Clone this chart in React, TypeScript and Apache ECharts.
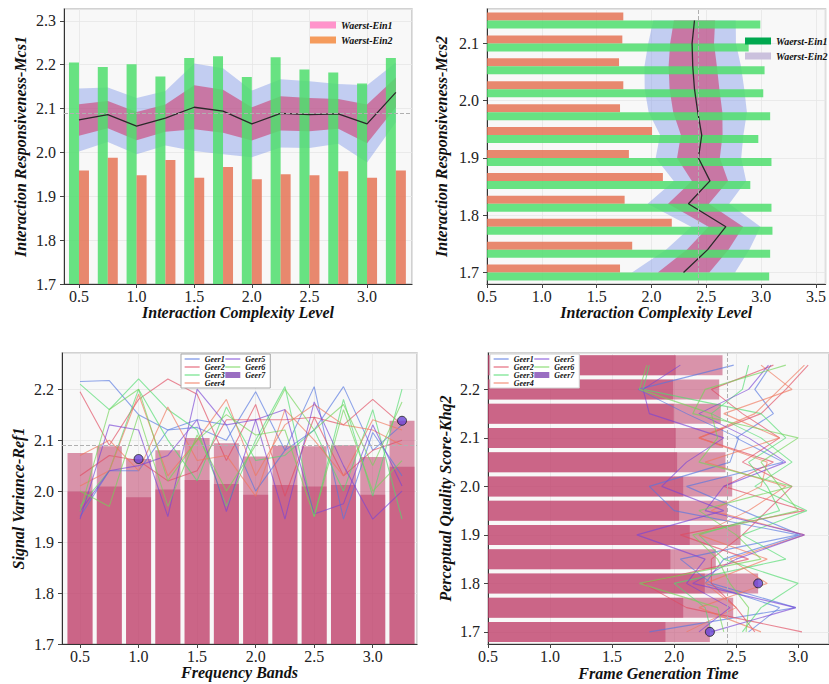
import React, { useEffect, useRef } from 'react';
import * as echarts from 'echarts';

const SERIF = '"Liberation Serif", "Times New Roman", "DejaVu Serif", serif';

// ---------- Panel 1 (top-left) ----------
const p1X = [0.5, 0.75, 1.0, 1.25, 1.5, 1.75, 2.0, 2.25, 2.5, 2.75, 3.0, 3.25];
const p1Green = [2.205, 2.195, 2.201, 2.173, 2.215, 2.219, 2.172, 2.217, 2.189, 2.182, 2.157, 2.215];
const p1Orange = [1.959, 1.988, 1.948, 1.983, 1.942, 1.967, 1.939, 1.95, 1.948, 1.957, 1.942, 1.959];
const p1Mean = [2.074, 2.086, 2.06, 2.078, 2.103, 2.094, 2.065, 2.089, 2.086, 2.088, 2.065, 2.137];
const p1Sd = [0.036, 0.031, 0.032, 0.031, 0.05, 0.049, 0.038, 0.039, 0.038, 0.034, 0.044, 0.034];

// ---------- Panel 2 (top-right) ----------
const p2Y = [1.7, 1.74, 1.78, 1.82, 1.86, 1.9, 1.94, 1.98, 2.02, 2.06, 2.1, 2.14];
const p2Green = [3.073, 3.082, 3.103, 3.094, 2.901, 3.094, 2.974, 3.082, 3.019, 3.031, 2.886, 2.992];
const p2Orange = [1.713, 1.824, 2.185, 1.755, 2.104, 1.794, 2.005, 1.713, 1.743, 1.704, 1.734, 1.743];
const p2Mean = [2.292, 2.512, 2.678, 2.337, 2.533, 2.428, 2.458, 2.422, 2.392, 2.376, 2.37, 2.392];
const p2Sd = [0.235, 0.19, 0.158, 0.186, 0.165, 0.195, 0.19, 0.224, 0.227, 0.22, 0.2, 0.188];

// ---------- Panel 3 (bottom-left) ----------
const p3X = [0.5, 0.75, 1.0, 1.25, 1.5, 1.75, 2.0, 2.25, 2.5, 2.75, 3.0, 3.25];
const p3Top = [2.075, 2.088, 2.063, 2.08, 2.104, 2.094, 2.068, 2.089, 2.088, 2.09, 2.067, 2.138];
const p3Low = [1.999, 2.009, 1.988, 2.003, 2.022, 2.014, 1.993, 2.012, 2.009, 2.012, 1.993, 2.048];
const g1a = [2.215, 2.217, 2.15, 2.12, 2.125, 2.1, 2.195, 2.08, 2.205, 1.945, 2.115, 2.03];
const g1b = [1.95, 2.04, 2.04, 2.12, 2.14, 2.13, 2.0, 2.08, 2.12, 2.205, 2.08, 2.13];
const g2a = [2.195, 2.09, 2.18, 2.22, 2.19, 2.06, 2.17, 1.99, 2.145, 2.13, 2.18, 2.13];
const g2b = [2.03, 2.07, 2.06, 2.02, 2.04, 2.14, 2.14, 2.14, 2.145, 2.03, 2.08, 2.1];
const g3a = [2.21, 2.16, 2.22, 2.16, 2.12, 1.97, 2.1, 2.205, 1.95, 2.18, 1.99, 2.2];
const g3b = [1.97, 2.04, 2.2, 2.1, 2.02, 2.165, 2.06, 2.07, 2.12, 2.0, 2.16, 1.945];
const g4a = [2.01, 2.04, 2.19, 2.03, 2.1, 2.18, 2.03, 2.13, 2.17, 2.13, 2.12, 2.09];
const g4b = [2.07, 2.1, 2.04, 2.165, 2.06, 2.07, 1.99, 2.16, 2.1, 2.03, 2.14, 2.12];
const g5a = [1.945, 2.13, 2.12, 1.95, 2.2, 2.13, 2.14, 1.945, 2.175, 2.05, 1.945, 2.0];
const g5b = [1.96, 2.04, 2.05, 2.07, 2.14, 1.96, 2.14, 2.16, 1.955, 1.975, 2.13, 2.01];
const g6a = [2.0, 1.97, 2.15, 1.97, 2.11, 2.0, 2.09, 2.2, 2.12, 2.17, 2.05, 2.175];
const g6b = [1.96, 2.16, 2.2, 2.02, 2.1, 2.15, 2.11, 2.12, 1.95, 2.16, 2.0, 2.06];

// ---------- Panel 4 (bottom-right) ----------
const p4Y = [1.7, 1.75, 1.8, 1.85, 1.9, 1.95, 2.0, 2.05, 2.1, 2.15, 2.2, 2.25];
const p4Top = [2.288, 2.476, 2.677, 2.336, 2.535, 2.427, 2.468, 2.414, 2.395, 2.376, 2.363, 2.39];
const p4Low = [1.93, 2.073, 2.247, 1.97, 2.126, 2.04, 2.073, 2.024, 2.013, 1.997, 1.992, 2.013];
const h1a = [1.8, 2.98, 2.3, 2.05, 3.0, 2.0, 1.8, 2.45, 2.52, 2.1, 1.71, 2.48];
const h1b = [2.6, 2.85, 2.25, 2.4, 3.02, 2.55, 2.1, 2.88, 2.5, 2.8, 2.65, 2.78];
const h2a = [2.65, 2.5, 2.3, 2.3, 2.55, 2.75, 2.95, 2.55, 2.85, 2.55, 2.3, 2.8];
const h2b = [3.03, 2.1, 1.75, 2.6, 2.05, 3.05, 2.4, 2.8, 2.2, 2.7, 2.9, 3.08];
const h3a = [2.55, 2.7, 3.0, 2.4, 2.2, 2.85, 2.75, 2.6, 2.9, 2.7, 1.75, 1.8];
const h3b = [2.3, 2.25, 2.0, 2.9, 2.55, 3.07, 2.65, 2.95, 2.7, 2.3, 2.55, 2.6];
const h4a = [2.1, 2.5, 2.25, 2.75, 2.2, 2.6, 2.9, 2.25, 2.85, 2.4, 2.95, 2.7];
const h4b = [2.7, 2.2, 2.75, 2.45, 3.05, 2.3, 2.7, 2.75, 2.2, 2.65, 2.85, 3.05];
const h5a = [2.2, 2.45, 2.1, 2.25, 1.7, 2.4, 1.9, 2.1, 2.4, 1.8, 1.75, 2.05];
const h5b = [2.3, 2.98, 2.15, 2.5, 3.05, 2.25, 2.4, 2.9, 2.6, 2.2, 2.6, 2.76];
const h6a = [2.4, 2.35, 1.72, 2.7, 2.5, 2.2, 2.95, 2.2, 2.35, 2.3, 1.72, 1.78];
const h6b = [2.58, 2.6, 2.45, 2.35, 2.15, 3.0, 2.85, 2.7, 3.0, 2.15, 2.25, 2.9];

const geerNames = ['Geer1', 'Geer2', 'Geer3', 'Geer4', 'Geer5', 'Geer6'];
const geerColors = ['#5577e0', '#e04a60', '#50dc6e', '#f0765a', '#7a45d6', '#72d458'];
const p3Lines = [[g1a, g1b], [g2a, g2b], [g3a, g3b], [g4a, g4b], [g5a, g5b], [g6a, g6b]];
const p4Lines = [[h1a, h1b], [h2a, h2b], [h3a, h3b], [h4a, h4b], [h5a, h5b], [h6a, h6b]];

const mean = (a: number[]) => a.reduce((s, v) => s + v, 0) / a.length;

const titleStyle = { fontFamily: SERIF, fontSize: 16, fontWeight: 'bold', fontStyle: 'italic', color: '#111' };
const labelStyle = { fontFamily: SERIF, fontSize: 16, color: '#222' };

function valueAxis(gridIndex: number, min: number, max: number, name: string, nameGap: number, showMin: boolean, margin: number) {
  return {
    type: 'value', gridIndex, min, max, splitNumber: 6,
    name, nameLocation: 'middle', nameGap, nameTextStyle: titleStyle,
    axisLine: { show: true, onZero: false, lineStyle: { color: '#333', width: 1 } },
    axisTick: { show: true, length: 4, lineStyle: { color: '#444' } },
    axisLabel: { ...labelStyle, margin, showMinLabel: showMin, showMaxLabel: false, formatter: (v: number) => v.toFixed(1) },
    splitLine: { show: true, lineStyle: { color: '#e6e6e6', width: 0.8 } },
  };
}

function band(xi: number, yi: number, pos: number[], center: number[], sd: number[], k: number, color: string, horizontal: boolean) {
  return {
    type: 'custom', xAxisIndex: xi, yAxisIndex: yi, z: 1, silent: true, clip: true,
    data: [horizontal ? [center[0], pos[0]] : [pos[0], center[0]]],
    renderItem: (_params: any, api: any) => {
      const pt = (p: number, v: number) => (horizontal ? api.coord([v, p]) : api.coord([p, v]));
      const upper = pos.map((p, i) => pt(p, center[i] + k * sd[i]));
      const lower = pos.map((p, i) => pt(p, center[i] - k * sd[i])).reverse();
      return { type: 'polygon', shape: { points: upper.concat(lower) }, style: { fill: color } };
    },
  };
}

const legendText = { fontFamily: SERIF, fontWeight: 'bold', fontStyle: 'italic', color: '#111' };

function geerLegend(left: number, top: number, border: string) {
  return {
    left, top, orient: 'vertical', height: 34, itemWidth: 15, itemHeight: 6, itemGap: 0,
    padding: [1, 5, 1, 3], backgroundColor: '#ffffff', borderColor: border, borderWidth: 1,
    textStyle: { ...legendText, fontSize: 8, width: 36 },
    data: [
      ...geerNames.map((n, i) => ({ name: n, icon: 'line', itemStyle: { color: geerColors[i], borderColor: geerColors[i], borderWidth: 1.3, opacity: 0.75 } })),
      { name: 'Geer7', icon: 'rect', itemStyle: { color: '#9a6ec2', borderWidth: 0 } },
    ],
  };
}

function buildOption() {
  const series: any[] = [];
  const blueBand = 'rgba(120,145,232,0.42)';
  const pinkBand = 'rgba(205,50,100,0.55)';
  // Panel 1
  series.push(band(0, 0, p1X, p1Mean, p1Sd, 2, blueBand, false));
  series.push(band(0, 0, p1X, p1Mean, p1Sd, 1, pinkBand, false));
  series.push({ name: 'Waerst-Ein1', type: 'bar', xAxisIndex: 0, yAxisIndex: 0, barWidth: 10, barGap: '0%', z: 2,
    itemStyle: { color: 'rgba(79,222,109,0.85)' }, data: p1X.map((x, i) => [x, p1Green[i]]) });
  series.push({ name: 'Waerst-Ein2', type: 'bar', xAxisIndex: 0, yAxisIndex: 0, barWidth: 10, barGap: '0%', z: 2,
    itemStyle: { color: 'rgba(229,116,86,0.85)' }, data: p1X.map((x, i) => [x, p1Orange[i]]) });
  series.push({ name: 'mean1', type: 'line', xAxisIndex: 0, yAxisIndex: 0, symbol: 'none', z: 4,
    lineStyle: { color: '#2a2a2a', width: 1.3 }, data: p1X.map((x, i) => [x, p1Mean[i]]),
    markLine: { silent: true, symbol: 'none', label: { show: false }, lineStyle: { color: '#b0b0b0', type: 'dashed', width: 1 }, data: [{ yAxis: mean(p1Mean) }] } });

  // Panel 2
  series.push(band(1, 1, p2Y, p2Mean, p2Sd, 2, blueBand, true));
  series.push(band(1, 1, p2Y, p2Mean, p2Sd, 1, pinkBand, true));
  series.push({ name: 'Waerst-Ein2', type: 'bar', xAxisIndex: 1, yAxisIndex: 2, barWidth: 8, barGap: '0%', z: 2,
    itemStyle: { color: 'rgba(229,116,86,0.85)' }, data: p2Orange });
  series.push({ name: 'Waerst-Ein1', type: 'bar', xAxisIndex: 1, yAxisIndex: 2, barWidth: 8, barGap: '0%', z: 2,
    itemStyle: { color: 'rgba(79,222,109,0.85)' }, data: p2Green });
  series.push({ name: 'mean2', type: 'line', xAxisIndex: 1, yAxisIndex: 1, symbol: 'none', z: 4,
    lineStyle: { color: '#2a2a2a', width: 1.3 }, data: p2Y.map((y, i) => [p2Mean[i], y]),
    markLine: { silent: true, symbol: 'none', label: { show: false }, lineStyle: { color: '#b0b0b0', type: 'dashed', width: 1 }, data: [{ xAxis: mean(p2Mean) }] } });

  // Panel 3
  series.push({ name: 'Geer7-base', type: 'bar', xAxisIndex: 2, yAxisIndex: 3, barWidth: 25, barGap: '-100%', z: 2,
    itemStyle: { color: 'rgba(192,64,106,0.55)' }, data: p3X.map((x, i) => [x, p3Low[i]]) });
  series.push({ name: 'Geer7', type: 'bar', xAxisIndex: 2, yAxisIndex: 3, barWidth: 25, barGap: '-100%', z: 2,
    itemStyle: { color: 'rgba(192,64,106,0.55)' }, data: p3X.map((x, i) => [x, p3Top[i]]),
    markLine: { silent: true, symbol: 'none', label: { show: false }, lineStyle: { color: '#b0b0b0', type: 'dashed', width: 1 }, data: [{ yAxis: mean(p3Top) }] } });
  p3Lines.forEach((pair, gi) => pair.forEach((vals) => series.push({
    name: geerNames[gi], type: 'line', xAxisIndex: 2, yAxisIndex: 3, symbol: 'none', z: 3,
    itemStyle: { color: geerColors[gi] }, lineStyle: { color: geerColors[gi], width: 1.1, opacity: 0.65 },
    data: p3X.map((x, i) => [x, vals[i]]),
  })));
  const i3min = p3Top.indexOf(Math.min(...p3Top));
  const i3max = p3Top.indexOf(Math.max(...p3Top));
  series.push({ name: 'extreme3', type: 'scatter', xAxisIndex: 2, yAxisIndex: 3, symbolSize: 9, z: 6,
    itemStyle: { color: '#6a44d6', borderColor: '#222', borderWidth: 1 },
    data: [[p3X[i3min], p3Top[i3min]], [p3X[i3max], p3Top[i3max]]] });

  // Panel 4
  series.push({ name: 'Geer7-base', type: 'bar', xAxisIndex: 3, yAxisIndex: 5, barWidth: 20, barGap: '-100%', z: 2,
    itemStyle: { color: 'rgba(192,64,106,0.55)' }, data: p4Low });
  series.push({ name: 'Geer7', type: 'bar', xAxisIndex: 3, yAxisIndex: 5, barWidth: 20, barGap: '-100%', z: 2,
    itemStyle: { color: 'rgba(192,64,106,0.55)' }, data: p4Top });
  p4Lines.forEach((pair, gi) => pair.forEach((vals) => series.push({
    name: geerNames[gi], type: 'line', xAxisIndex: 3, yAxisIndex: 4, symbol: 'none', z: 3,
    itemStyle: { color: geerColors[gi] }, lineStyle: { color: geerColors[gi], width: 1.1, opacity: 0.65 },
    data: p4Y.map((y, i) => [vals[i], y]),
  })));
  const i4min = p4Top.indexOf(Math.min(...p4Top));
  const i4max = p4Top.indexOf(Math.max(...p4Top));
  series.push({ name: 'extreme4', type: 'scatter', xAxisIndex: 3, yAxisIndex: 4, symbolSize: 9, z: 6,
    itemStyle: { color: '#6a44d6', borderColor: '#222', borderWidth: 1 },
    data: [[p4Top[i4min], p4Y[i4min]], [p4Top[i4max], p4Y[i4max]]],
    markLine: { silent: true, symbol: 'none', label: { show: false }, lineStyle: { color: '#b0b0b0', type: 'dashed', width: 1 }, data: [{ xAxis: mean(p4Top) }] } });

  const gridBase = { show: true, backgroundColor: '#f8f8f8', borderColor: '#c4c4c4', borderWidth: 1.5, containLabel: false };

  return {
    animation: false,
    backgroundColor: '#ffffff',
    grid: [
      { ...gridBase, left: 64, top: 9, width: 348, height: 275 },
      { ...gridBase, left: 487, top: 9, width: 342, height: 275 },
      { ...gridBase, left: 62, top: 353, width: 355, height: 291 },
      { ...gridBase, left: 488, top: 353, width: 341, height: 291 },
    ],
    xAxis: [
      valueAxis(0, 0.37, 3.39, 'Interaction Complexity Level', 20, false, 4),
      valueAxis(1, 0.5, 3.587, 'Interaction Complexity Level', 20, true, 4),
      valueAxis(2, 0.346, 3.378, 'Frequency Bands', 20, false, 4),
      valueAxis(3, 0.5, 3.248, 'Frame Generation Time', 21, true, 4),
    ],
    yAxis: [
      valueAxis(0, 1.7, 2.327, 'Interaction Responsiveness-Mcs1', 36, true, 8),
      valueAxis(1, 1.68, 2.16, 'Interaction Responsiveness-Mcs2', 38, false, 8),
      { type: 'category', gridIndex: 1, show: false, data: p2Y.map((v) => v.toFixed(2)) },
      valueAxis(2, 1.7, 2.271, 'Signal Variance-Ref1', 36, true, 8),
      valueAxis(3, 1.675, 2.275, 'Perceptual Quality Score-Khq2', 35, false, 8),
      { type: 'category', gridIndex: 3, show: false, data: p4Y.map((v) => v.toFixed(2)) },
    ],
    legend: [
      { left: 305, top: 15, orient: 'vertical', itemWidth: 26, itemHeight: 7, itemGap: 5, icon: 'rect',
        textStyle: { ...legendText, fontSize: 10 },
        data: [{ name: 'Waerst-Ein1', itemStyle: { color: '#ff93cb' } }, { name: 'Waerst-Ein2', itemStyle: { color: '#f59b5c' } }] },
      { left: 740, top: 31, orient: 'vertical', itemWidth: 26, itemHeight: 7, itemGap: 5, icon: 'rect',
        textStyle: { ...legendText, fontSize: 10 },
        data: [{ name: 'Waerst-Ein1', itemStyle: { color: '#00a84f' } }, { name: 'Waerst-Ein2', itemStyle: { color: '#cbc1dd' } }] },
      geerLegend(181, 354, '#a8a8a8'),
      geerLegend(490, 354, '#d0d0d0'),
    ],
    series,
  };
}

export default function App() {
  const ref = useRef<HTMLDivElement>(null);
  useEffect(() => {
    if (!ref.current) return;
    const chart = echarts.init(ref.current, undefined, { renderer: 'svg' });
    chart.setOption(buildOption() as any);
    return () => chart.dispose();
  }, []);
  return <div ref={ref} style={{ position: 'absolute', left: 0, top: 0, width: 829, height: 684 }} />;
}
